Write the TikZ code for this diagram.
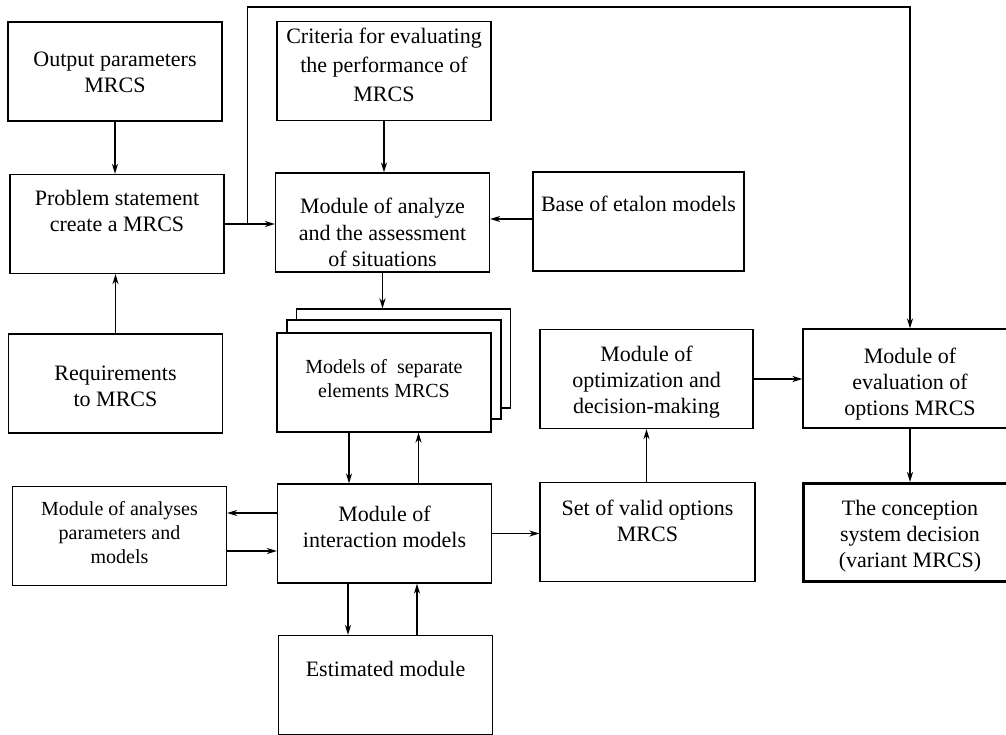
\documentclass[tikz,border=0pt]{standalone}
\usepackage{fontspec}
\setmainfont{Liberation Serif}
\usetikzlibrary{arrows.meta,positioning,calc}

\begin{document}
\begin{tikzpicture}[x=1pt,y=-1pt,
    >={Stealth[length=10pt,width=6pt,inset=3pt]},
    box/.style={draw,line width=1.2pt,fill=white,minimum width=214pt,minimum height=99pt,
      inner sep=2pt,align=center,font=\fontsize{22}{26}\selectfont},
    small/.style={font=\fontsize{20}{24}\selectfont},
    link/.style={->,line width=1.6pt}]
  \clip (0,0) rectangle (1006,735);
  % left column
  \node[box,text height=66.5pt,text depth=23.5pt] (out) at (115,71.5) {Output parameters\\MRCS};
  \node[box,text height=53pt,text depth=37pt] (prob) at (117,224) {Problem statement\\create a MRCS};
  \node[box,text height=67.5pt,text depth=22.5pt] (req) at (115.5,383.5) {Requirements\\to MRCS};
  \node[box,small,text height=72pt,text depth=18pt] (ana) at (119.5,536) {Module of analyses\\parameters and\\models};
  % middle column
  \node[box,text height=76pt,text depth=14pt,font=\fontsize{22}{29}\selectfont] (crit) at (384,71) {Criteria for evaluating\\the performance of\\MRCS};
  \node[box,text height=88.5pt,text depth=1.5pt] (anl) at (382.5,222.5) {Module of analyze\\and the assessment\\of situations};
  \node[box] (mdlc) at (403.5,358.5) {};
  \node[box] (mdlb) at (394,369.5) {};
  \node[box,small,text height=59.5pt,text depth=30.5pt] (mdl) at (384,382.5) {Models of~ separate\\elements MRCS};
  \node[box,text height=58.5pt,text depth=31.5pt] (inter) at (384.5,533.5) {Module of\\interaction models};
  \node[box,text height=36pt,text depth=54pt] (est) at (385.5,685) {Estimated module};
  % right part
  \node[box,text height=35.5pt,text depth=54.5pt,minimum width=211pt] (base) at (638.5,221.5) {Base of etalon models};
  \node[box,text height=79pt,text depth=11pt,minimum width=213pt] (opt) at (646.5,379) {Module of\\optimization and\\decision-making};
  \node[box,text height=54pt,text depth=36pt,minimum width=215pt] (set) at (647.5,532) {Set of valid options\\MRCS};
  \node[box,text height=81.5pt,text depth=8.5pt] (eval) at (910,378.5) {Module of\\evaluation of\\options MRCS};
  \node[box,line width=3pt,text height=79.5pt,text depth=10.5pt,minimum height=98pt] (concl) at (910,532.5) {The conception\\system decision\\(variant MRCS)};

  % connections
  \draw[link] (out.south) -- (out.south |- prob.north);
  \draw[link] (req.north) -- (req.north |- prob.south);
  \draw[link] (crit.south) -- (crit.south |- anl.north);
  \draw[link] (prob.east) -- (prob.east -| anl.west);
  \draw[link] ([yshift=2.5pt]base.west) -- ([yshift=2.5pt]base.west -| anl.east);
  \coordinate (fb) at ($(prob.east)+(23,0)$);
  \coordinate (top) at (910,7);
  \draw[link] (fb) |- (top) -- (eval.north);
  \draw[link] (anl.south) -- (anl.south |- mdlc.north);
  \draw[link] ([xshift=-35pt]mdl.south) -- ([xshift=-35pt]mdl.south |- inter.north);
  \draw[link] ([xshift=34pt]inter.north) -- ([xshift=34pt]inter.north |- mdl.south);
  \draw[link] ([xshift=-36.5pt]inter.south) -- ([xshift=-36.5pt]inter.south |- est.north);
  \draw[link] ([xshift=32.5pt]inter.south |- est.north) -- ([xshift=32.5pt]inter.south);
  \draw[link] ([yshift=20.5pt]inter.west) -- ([yshift=20.5pt]inter.west -| ana.east);
  \draw[link] ([yshift=-15pt]ana.east) -- ([yshift=-15pt]ana.east -| inter.west);
  \draw[link] (inter.east) -- (inter.east -| set.west);
  \draw[link] (set.north -| opt.south) -- (opt.south);
  \draw[link] (opt.east) -- (opt.east -| eval.west);
  \draw[link] (eval.south) -- (concl.north);
\end{tikzpicture}
\end{document}
